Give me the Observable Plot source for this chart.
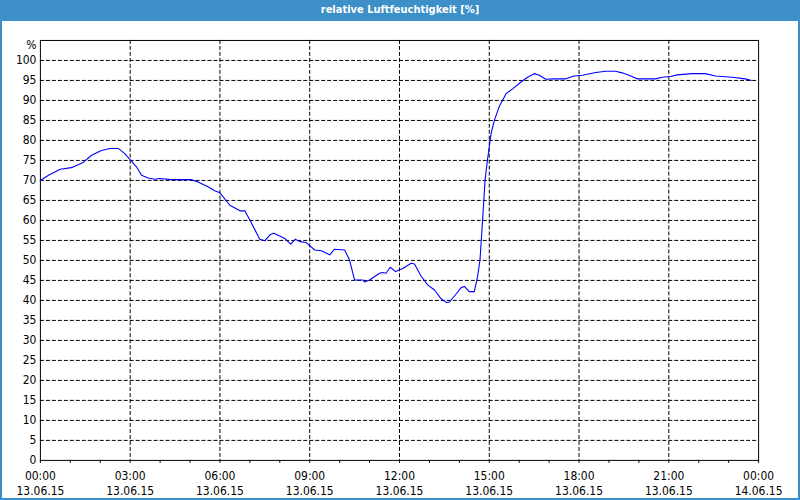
<!DOCTYPE html>
<html>
<head>
<meta charset="utf-8">
<script src="https://cdn.jsdelivr.net/npm/d3@7"></script>
<script src="https://cdn.jsdelivr.net/npm/@observablehq/plot@0.6"></script>
<style>
  html, body { margin: 0; padding: 0; background: #fff; }
  #wrap { position: relative; width: 800px; height: 500px; box-sizing: border-box;
          border: 2px solid #3c8fc7; border-top: none; background: #fff; overflow: hidden; }
  #title { position: absolute; left: -2px; top: 0; width: 800px; height: 21px; background: #3c8fc7;
           color: #fff; font: bold 11px "DejaVu Sans Condensed", "DejaVu Sans", sans-serif;
           text-align: center; line-height: 20px; }
  #chart { position: absolute; left: -2px; top: 21px; }
  #chart svg { font-family: "DejaVu Sans Condensed", "DejaVu Sans", sans-serif; }
</style>
</head>
<body>
<div id="wrap">
  <div id="title">relative Luftfeuchtigkeit [%]</div>
  <div id="chart"></div>
</div>
<script>
const hours = [0, 0.27, 0.66, 1.04, 1.43, 1.71, 2.04, 2.32, 2.6, 2.82, 3.04, 3.21, 3.38, 3.6, 3.82, 3.99, 4.38, 5.04, 5.27, 5.6, 5.82, 6.0, 6.33, 6.67, 6.83, 7.0, 7.33, 7.5, 7.67, 7.8, 8.17, 8.36, 8.52, 8.67, 8.87, 9.17, 9.39, 9.67, 9.83, 10.17, 10.33, 10.5, 10.78, 10.83, 11.0, 11.33, 11.44, 11.55, 11.69, 11.87, 12.11, 12.39, 12.5, 12.72, 12.94, 13.17, 13.39, 13.56, 13.67, 13.89, 14.06, 14.17, 14.33, 14.5, 14.61, 14.69, 14.78, 14.86, 14.94, 15.06, 15.17, 15.33, 15.56, 15.78, 16.06, 16.28, 16.5, 16.67, 16.89, 17.17, 17.56, 17.83, 18.11, 18.56, 18.89, 19.22, 19.44, 19.67, 19.94, 20.56, 20.78, 21.06, 21.28, 21.78, 22.22, 22.56, 23.11, 23.56, 23.76];
const humidity = [70.0, 71.3, 72.8, 73.2, 74.5, 76.3, 77.5, 78.0, 78.0, 76.7, 74.8, 73.4, 71.3, 70.6, 70.3, 70.5, 70.2, 70.2, 69.6, 68.4, 67.4, 66.9, 63.8, 62.4, 62.4, 60.1, 55.3, 54.9, 56.4, 56.8, 55.5, 54.1, 55.3, 54.7, 54.5, 52.6, 52.4, 51.4, 52.8, 52.6, 50.1, 45.1, 45.1, 44.6, 45.1, 46.8, 47.0, 46.8, 48.3, 47.2, 48.0, 49.3, 49.1, 46.1, 43.9, 42.6, 40.4, 39.5, 39.6, 41.6, 43.2, 43.5, 42.2, 42.2, 46.0, 50.1, 60.5, 70.1, 75.1, 81.7, 85.0, 88.4, 91.7, 92.9, 94.6, 95.8, 96.7, 96.3, 95.3, 95.4, 95.4, 96.1, 96.3, 97.0, 97.3, 97.3, 96.9, 96.3, 95.4, 95.4, 95.8, 96.0, 96.4, 96.7, 96.7, 96.1, 95.8, 95.4, 95.0];

const majorHours = [0, 3, 6, 9, 12, 15, 18, 21, 24];
const timeLabels = ["00:00", "03:00", "06:00", "09:00", "12:00", "15:00", "18:00", "21:00", "00:00"];
const dateLabels = ["13.06.15", "13.06.15", "13.06.15", "13.06.15", "13.06.15", "13.06.15", "13.06.15", "13.06.15", "14.06.15"];
const minorHours = d3.range(0, 25, 1);
const yTicks = d3.range(0, 101, 5);
const unitLabel = "%";

const data = hours.map((h, i) => ({h, v: humidity[i]}));

const chart = Plot.plot({
  width: 800,
  height: 479,
  marginLeft: 40,
  marginRight: 40,
  marginTop: 19,
  marginBottom: 39,
  style: {fontSize: "12px", color: "#000", background: "transparent"},
  x: {domain: [0, 24]},
  y: {domain: [0, 105]},
  marks: [
    Plot.gridX(majorHours.slice(1, -1), {stroke: "#000", strokeOpacity: 1, strokeDasharray: "4,2"}),
    Plot.gridY(yTicks.slice(1), {stroke: "#000", strokeOpacity: 1, strokeDasharray: "4,2"}),
    Plot.axisY({ticks: yTicks, tickSize: 0, tickPadding: 4, label: null, fill: "#000"}),
    Plot.axisX({ticks: minorHours, tickSize: 3, tickFormat: () => "", label: null, stroke: "#000"}),
    Plot.axisX({ticks: majorHours, tickSize: 0, tickPadding: 11, tickFormat: (d) => timeLabels[majorHours.indexOf(d)], label: null, fill: "#000"}),
    Plot.axisX({ticks: majorHours, tickSize: 0, tickPadding: 26, tickFormat: (d) => dateLabels[majorHours.indexOf(d)], label: null, fill: "#000"}),
    Plot.frame({stroke: "#000"}),
    Plot.line(data, {x: "h", y: "v", stroke: "#0000ff", strokeWidth: 1.1}),
    Plot.text([unitLabel], {frameAnchor: "top-left", text: d => d, dx: -4, dy: 0, textAnchor: "end", fill: "#000"})
  ]
});
document.getElementById("chart").appendChild(chart);
</script>
</body>
</html>
